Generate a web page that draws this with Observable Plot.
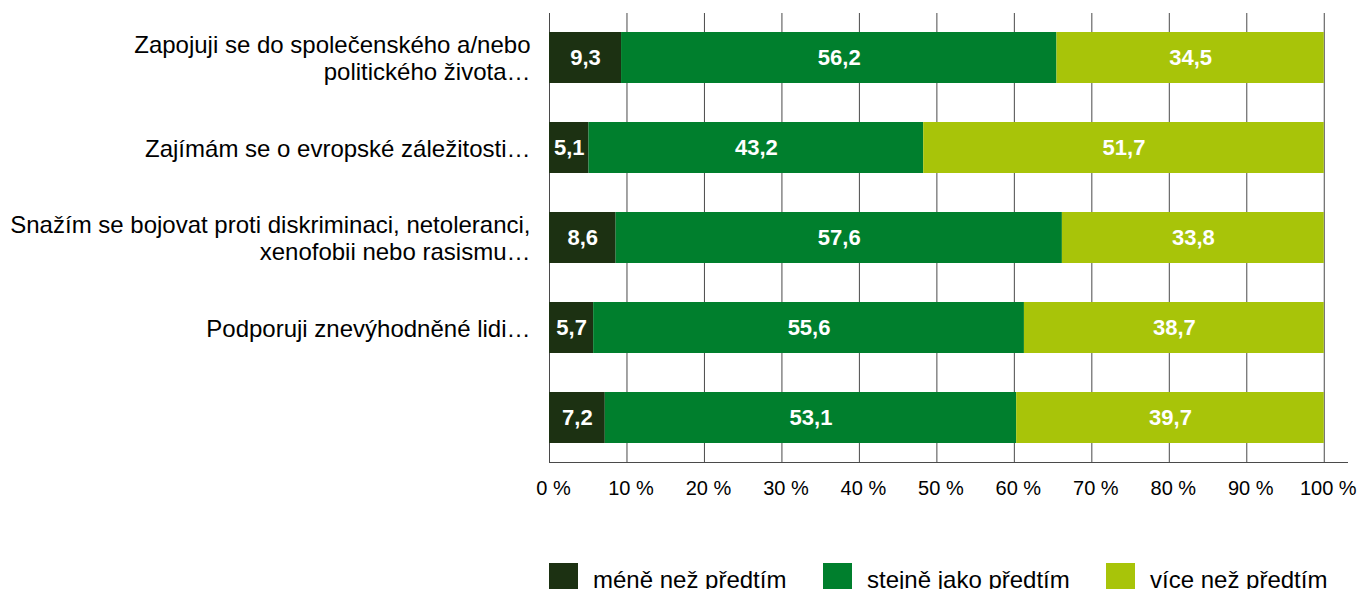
<!DOCTYPE html>
<html>
<head>
<meta charset="utf-8">
<script src="https://cdn.jsdelivr.net/npm/d3@7"></script>
<script src="https://cdn.jsdelivr.net/npm/@observablehq/plot@0.6"></script>
<style>
  html, body { margin: 0; padding: 0; background: #fff; overflow: hidden; }
  #wrap { position: relative; width: 1365px; height: 589px; overflow: hidden; font-family: "Liberation Sans", Arial, sans-serif; }
  .sw { position: absolute; top: 563px; width: 29px; height: 29px; }
  .lt { position: absolute; top: 568px; font-size: 24px; line-height: 24px; color: #000; white-space: nowrap; }
</style>
</head>
<body>
<div id="wrap"></div>
<script>
const categories = [
  "Zapojuji se do společenského a/nebo\npolitického života…",
  "Zajímám se o evropské záležitosti…",
  "Snažím se bojovat proti diskriminaci, netoleranci,\nxenofobii nebo rasismu…",
  "Podporuji znevýhodněné lidi…",
  ""
];
const seriesNames = ["méně než předtím", "stejně jako předtím", "více než předtím"];
const seriesColors = ["#1c3112", "#007f2d", "#a8c409"];
const lessValues = [9.3, 5.1, 8.6, 5.7, 7.2];
const sameValues = [56.2, 43.2, 57.6, 55.6, 53.1];
const moreValues = [34.5, 51.7, 33.8, 38.7, 39.7];
const xTicks = [0, 10, 20, 30, 40, 50, 60, 70, 80, 90, 100];

const seriesValues = [lessValues, sameValues, moreValues];
const data = [];
categories.forEach((c, i) => {
  seriesNames.forEach((s, j) => {
    data.push({row: i, series: s, value: seriesValues[j][i]});
  });
});

const fmt = v => v.toFixed(1).replace(".", ",");

const chart = Plot.plot({
  width: 1365,
  height: 530,
  marginLeft: 549,
  marginRight: 18,
  marginTop: 13,
  marginBottom: 68,
  style: {fontFamily: "'Liberation Sans', Arial, sans-serif", background: "#fff"},
  x: {domain: [0, 103]},
  y: {domain: d3.range(categories.length), paddingInner: 0.433, paddingOuter: 0.21},
  color: {domain: seriesNames, range: seriesColors},
  marks: [
    Plot.gridX(xTicks, {stroke: "#4a4a4a", strokeOpacity: 1, strokeWidth: 1}),
    Plot.barX(data, Plot.stackX({x: "value", y: "row", fill: "series", order: seriesNames, inset: 0})),
    Plot.text(data, Plot.stackX({x: "value", y: "row", z: "series", order: seriesNames, text: d => fmt(d.value), fill: "white", fontWeight: "bold", fontSize: 22})),
    Plot.frame({anchor: "bottom", stroke: "#4a4a4a"}),
    Plot.axisX(xTicks, {label: null, tickSize: 0, tickPadding: 18, tickFormat: d => d + " %", fontSize: 20, dx: 4, fill: "#000"}),
    Plot.axisY({label: null, tickSize: 0, tickPadding: 19, tickFormat: i => categories[i], fontSize: 24, lineHeight: 1.12, fill: "#000", textAnchor: "end"})
  ]
});

const wrap = document.getElementById("wrap");
wrap.appendChild(chart);
const legendX = [549, 823, 1106];
seriesNames.forEach((s, j) => {
  const sw = document.createElement("div");
  sw.className = "sw";
  sw.style.left = legendX[j] + "px";
  sw.style.background = seriesColors[j];
  wrap.appendChild(sw);
  const t = document.createElement("div");
  t.className = "lt";
  t.style.left = (legendX[j] + 44) + "px";
  t.textContent = s;
  wrap.appendChild(t);
});
</script>
</body>
</html>
